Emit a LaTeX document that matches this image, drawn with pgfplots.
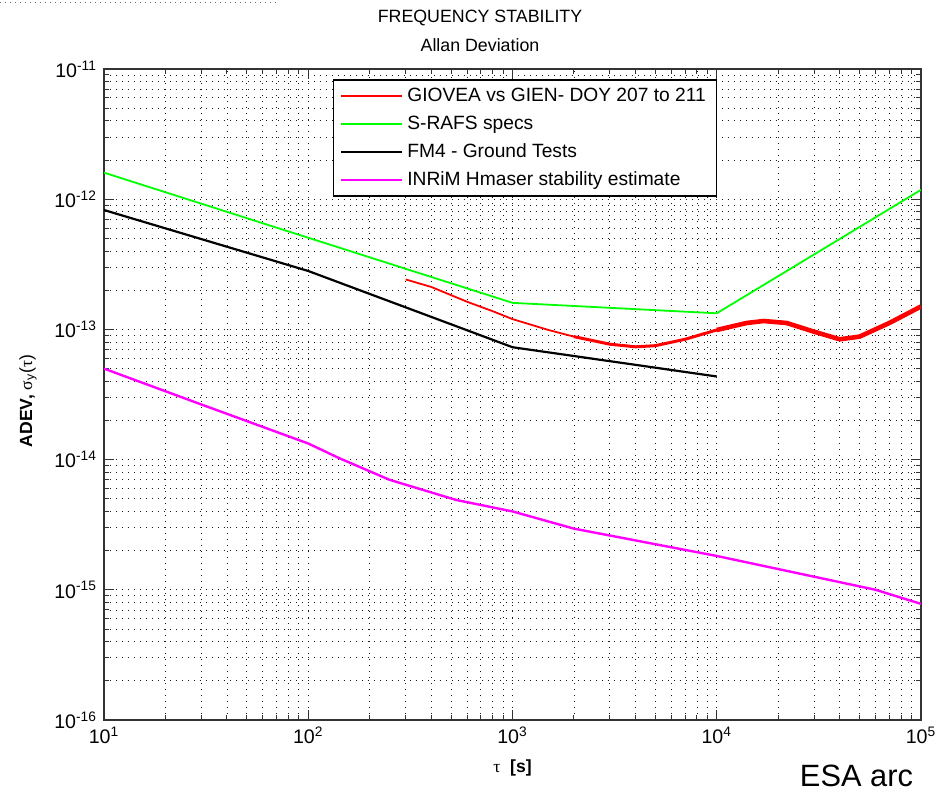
\documentclass[border=0pt]{standalone}
\usepackage{fontspec}
\setmainfont{Liberation Sans}
\newfontfamily\grk{Liberation Serif}
\usepackage{pgfplots}
\pgfplotsset{compat=1.18}
\definecolor{mred}{RGB}{255,0,0}
\definecolor{mgreen}{RGB}{0,255,0}
\definecolor{mmag}{RGB}{255,0,255}
\begin{document}
\begin{tikzpicture}
\useasboundingbox (-52pt,-38pt) rectangle (417.5pt,360pt);
\begin{axis}[
  at={(0,0)}, anchor=south west,
  scale only axis, width=408.5pt, height=325.5pt,
  xmode=log, ymode=log, log basis x=10, log basis y=10,
  xmin=10, xmax=1e5, ymin=1e-16, ymax=1e-11,
  grid=both,
  major grid style={black!90, line width=0.45pt, dash pattern=on 0.5pt off 2.5pt},
  minor grid style={black!90, line width=0.45pt, dash pattern=on 0.5pt off 2.5pt},
  axis line style={black!80, line width=0.6pt},
  tick align=inside,
  major tick length=5pt, minor tick length=2.5pt,
  tick style={black!80, line width=0.5pt},
  ticklabel style={font=\fontsize{9.8}{11}\selectfont},
  /pgf/number format/assume math mode=true,
  xticklabel={10\textsuperscript{\pgfmathprintnumber[fixed,precision=0]{\tick}}},
  yticklabel={10\textsuperscript{\pgfmathprintnumber[fixed,precision=0]{\tick}}},
  xlabel={{\grk τ}\ \ \textbf{[s]}},
  ylabel={\textbf{ADEV,} {\grk σ}\textsubscript{y}({\grk τ})},
  label style={font=\fontsize{8.8}{10}\selectfont},
  xlabel style={at={(axis description cs:0.5,-0.074)}, anchor=center},
  ylabel style={at={(axis description cs:-0.093,0.49)}, anchor=center},
  legend cell align=left,
  legend style={at={(0.28,0.984)}, anchor=north west, draw=black, line width=0.6pt,
    fill=white, font=\fontsize{9.6}{11}\selectfont, row sep=0pt,
    nodes={inner ysep=2.5pt, text height=7pt, text depth=2pt},
    inner xsep=3.5pt, inner ysep=1pt},
  legend image code/.code={\draw[#1, line width=1pt] (0pt,0pt) -- (30.5pt,0pt);},
]
\addplot[mred, line width=0.9pt, line join=round] coordinates {
(300,2.42e-13) (400,2.12e-13) (600,1.63e-13) (800,1.38e-13) (1000,1.2e-13)
(1500,9.9e-14) (2000,8.8e-14) };
\addlegendentry{GIOVEA vs GIEN- DOY 207 to 211}
\addplot[mgreen, line width=0.9pt] coordinates {
(10,1.6e-12) (1000,1.6e-13) (10000,1.33e-13) (100000,1.18e-12) };
\addlegendentry{S-RAFS specs}
\addplot[black, line width=1.1pt, line join=round] coordinates {
(10,8.26e-13) (100,2.81e-13) (1000,7.3e-14) (10000,4.35e-14) };
\addlegendentry{FM4 -  Ground Tests}
\addplot[mmag, line width=1.2pt, line join=round] coordinates {
(10,5.0e-14) (30,2.65e-14) (100,1.33e-14) (143,1.02e-14) (250,7.0e-15)
(530,4.9e-15) (1000,4.0e-15) (2000,2.95e-15) (10000,1.82e-15)
(60000,1.0e-15) (100000,7.8e-16) };
\addlegendentry{INRiM Hmaser stability estimate}
\addplot[mred, line width=1.5pt, line join=round, forget plot] coordinates {
(2000,8.8e-14) (3000,7.7e-14) (4000,7.35e-14) (5000,7.5e-14) (7000,8.4e-14)
(10000,9.9e-14) };
\addplot[mred, line width=2.3pt, line join=round, forget plot] coordinates {
(10000,9.9e-14) (14000,1.12e-13) (17000,1.16e-13) (22000,1.12e-13)
(30000,9.6e-14) (40000,8.4e-14) (50000,8.8e-14) (70000,1.12e-13) (100000,1.5e-13) };
\end{axis}
\node[font=\fontsize{8.9}{10}\selectfont] at (188pt,351pt) {FREQUENCY STABILITY};
\node[font=\fontsize{8.9}{10}\selectfont] at (188pt,337.5pt) {Allan Deviation};
\node[font=\fontsize{15.4}{17}\selectfont, anchor=east] at (408pt,-28pt) {ESA arc};
\draw[black!60, line width=0.4pt, dash pattern=on 0.5pt off 2pt] (-52pt,358.6pt) -- (86.5pt,358.6pt) -- (86.5pt,360pt);
\end{tikzpicture}
\end{document}
